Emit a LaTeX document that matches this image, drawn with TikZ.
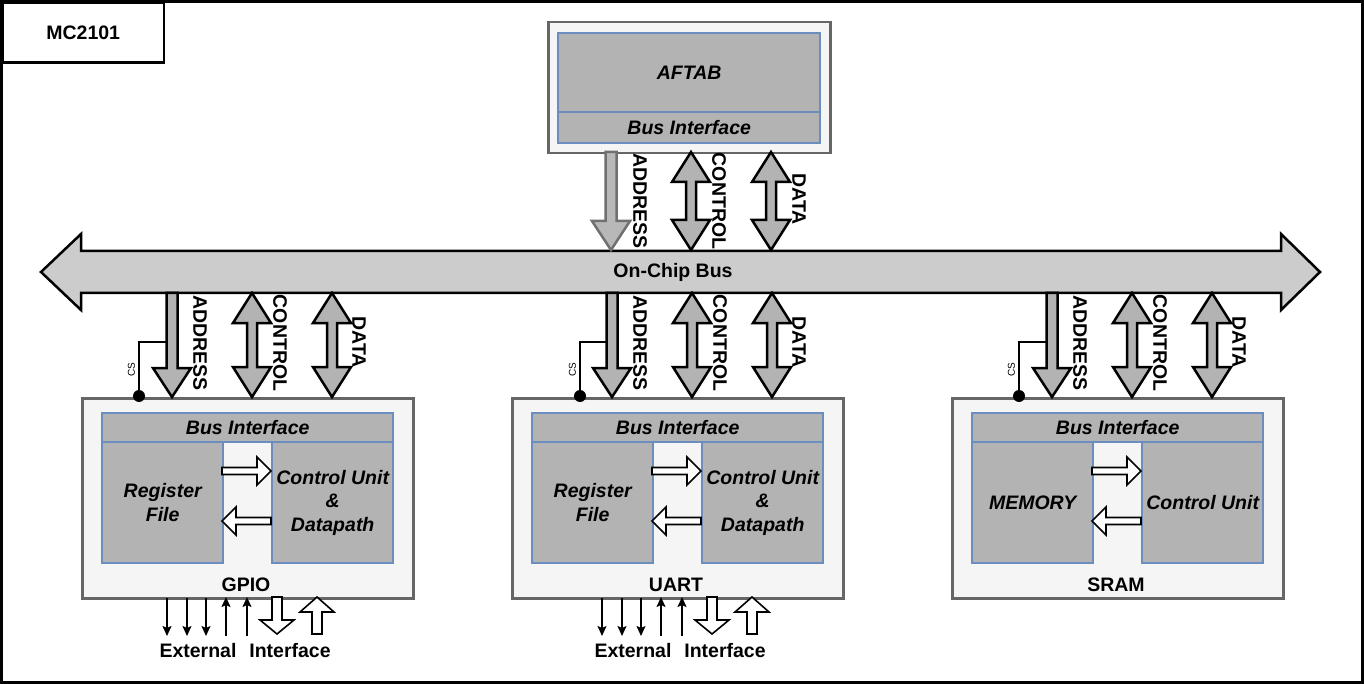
\documentclass[tikz,border=0pt]{standalone}
\usepackage{fontspec}
\setmainfont{Liberation Sans}
\usetikzlibrary{arrows.meta}
\definecolor{boxgray}{HTML}{F5F5F5}
\definecolor{edgegray}{HTML}{666666}
\definecolor{innerfill}{HTML}{B3B3B3}
\definecolor{blueedge}{HTML}{6C8EBF}
\definecolor{busfill}{HTML}{CCCCCC}
\definecolor{addrfill}{HTML}{B8B8B8}
\definecolor{addredge}{HTML}{707070}
\tikzset{
  outerbox/.style={draw=edgegray, fill=boxgray, line width=2.5pt, inner sep=0pt, anchor=north west},
  innerbox/.style={draw=blueedge, fill=innerfill, line width=2.4pt, inner sep=0pt, anchor=north west,
    font=\bfseries\itshape\fontsize{19.5}{23.5}\selectfont, align=center},
  blockarr/.style={draw=black, fill=innerfill, line width=2.5pt},
  addrtop/.style={draw=addredge, fill=addrfill, line width=2.5pt},
  busarr/.style={draw=black, fill=busfill, line width=2.5pt},
  hollow/.style={draw=black, fill=white, line width=1.6pt},
  lbl/.style={font=\bfseries\fontsize{19.5}{23}\selectfont, inner sep=0pt},
  vlbl/.style={lbl, rotate=-90},
  cslbl/.style={font=\fontsize{10}{11}\selectfont, rotate=90, inner sep=0pt},
  thinarr/.style={-{Stealth[length=10pt,width=9pt,inset=2pt]}, line width=1.5pt},
  wire/.style={line width=2pt},
  csdot/.style={circle, fill=black, inner sep=0pt, minimum size=12pt},
}
% down block arrow: style, x, ytop, ytip
\newcommand{\blkdown}[4]{%
  \draw[#1] ({#2-5.5},#3) -- ({#2+5.5},#3) -- ({#2+5.5},{#4-29}) -- ({#2+19},{#4-29})
    -- (#2,#4) -- ({#2-19},{#4-29}) -- ({#2-5.5},{#4-29}) -- cycle;}
% double vertical block arrow: x, ytop, ybot
\newcommand{\blkdbl}[3]{%
  \draw[blockarr] (#1,#2) -- ({#1+19},{#2+30}) -- ({#1+5},{#2+30}) -- ({#1+5},{#3-30})
    -- ({#1+19},{#3-30}) -- (#1,#3) -- ({#1-19},{#3-30}) -- ({#1-5},{#3-30})
    -- ({#1-5},{#2+30}) -- ({#1-19},{#2+30}) -- cycle;}
% hollow arrows
\newcommand{\hollowright}[3]{% xleft, xright, y
  \draw[hollow] (#1,{#3-3.5}) -- ({#2-14},{#3-3.5}) -- ({#2-14},{#3-14}) -- (#2,#3)
    -- ({#2-14},{#3+14}) -- ({#2-14},{#3+3.5}) -- (#1,{#3+3.5}) -- cycle;}
\newcommand{\hollowleft}[3]{% xleft, xright, y
  \draw[hollow] (#2,{#3-3.5}) -- ({#1+14},{#3-3.5}) -- ({#1+14},{#3-14}) -- (#1,#3)
    -- ({#1+14},{#3+14}) -- ({#1+14},{#3+3.5}) -- (#2,{#3+3.5}) -- cycle;}
\newcommand{\hollowdown}[1]{%
  \draw[hollow] ({#1-5},597) -- ({#1+5},597) -- ({#1+5},620) -- ({#1+17},620) -- (#1,634)
    -- ({#1-17},620) -- ({#1-5},620) -- cycle;}
\newcommand{\hollowup}[1]{%
  \draw[hollow] (#1,597) -- ({#1+17},612) -- ({#1+5},612) -- ({#1+5},634) -- ({#1-5},634)
    -- ({#1-5},612) -- ({#1-17},612) -- cycle;}
% module: bx, addr x, ctrl x, data x, dot x, name, left text, right text
\newcommand{\modblock}[8]{%
  \node[outerbox, minimum width=331pt, minimum height=200pt] (#6-box) at (#1,397) {};
  \node[innerbox, minimum width=291pt, minimum height=29pt] (#6-bi) at ({#1+20},412) {Bus Interface};
  \node[innerbox, minimum width=121pt, minimum height=121pt] (#6-l) at ({#1+20},441) {#7};
  \node[innerbox, minimum width=121pt, minimum height=121pt] (#6-r) at ({#1+190},441) {#8};
  \hollowright{#1+141}{#1+190}{471}
  \hollowleft{#1+141}{#1+190}{521}
  \node[lbl] (#6-name) at ({#1+165},585) {#6};
  \node[csdot] (#6-cs) at (#5,396) {};
  \coordinate (#6-tap) at ({#2-5.5},342);
  \draw[wire] (#6-tap) -| (#6-cs.center);
  \node[cslbl] at ({#5-7.5},370) {CS};
  \blkdown{blockarr}{#2}{293}{397}
  \blkdbl{#3}{293}{397}
  \blkdbl{#4}{293}{397}
  \node[vlbl] at ({#2+28},343) {ADDRESS};
  \node[vlbl] at ({#3+28},343) {CONTROL};
  \node[vlbl] at ({#4+27},342) {DATA};
}
% external interface with offset
\newcommand{\extif}[1]{%
  \draw[thinarr] ({#1+167},598) -- ({#1+167},636);
  \draw[thinarr] ({#1+187},598) -- ({#1+187},636);
  \draw[thinarr] ({#1+206},598) -- ({#1+206},636);
  \draw[thinarr] ({#1+226},636) -- ({#1+226},597);
  \draw[thinarr] ({#1+247},636) -- ({#1+247},597);
  \hollowdown{#1+277}
  \hollowup{#1+317}
  \node[lbl] at ({#1+198},651) {External};
  \node[lbl] at ({#1+290},651) {Interface};
}
\begin{document}
\begin{tikzpicture}[x=1pt, y=-1pt]
  \useasboundingbox (0,0) rectangle (1364,684);
  \fill[white] (0,0) rectangle (1364,684);
  % frame and title
  \draw[line width=3.5pt] (1.5,1.5) rectangle (1362.5,682.5);
  \node[draw, line width=2.5pt, inner sep=0pt, minimum width=161pt, minimum height=60pt,
        anchor=north west, lbl] (title) at (1.5,1.5) {MC2101};
  % AFTAB
  \node[outerbox, minimum width=282pt, minimum height=131pt] (cpu) at (547,21) {};
  \node[innerbox, minimum width=262pt, minimum height=79pt] (aftab) at (557,32) {AFTAB};
  \node[innerbox, minimum width=262pt, minimum height=31pt] (cpubi) at (557,111) {Bus Interface};
  % bus
  \draw[busarr] (41,272) -- (81,234) -- (81,251) -- (1281,251) -- (1281,234) -- (1320,272)
     -- (1281,310) -- (1281,293) -- (81,293) -- (81,310) -- cycle;
  \node[lbl] (bus) at (673,272) {On-Chip Bus};
  % AFTAB to bus
  \blkdown{addrtop}{611}{152}{250}
  \blkdbl{691}{152}{250}
  \blkdbl{771}{152}{250}
  \node[vlbl] at (640,201) {ADDRESS};
  \node[vlbl] at (719,201) {CONTROL};
  \node[vlbl] at (799,199) {DATA};
  % modules
  \modblock{81}{172}{252}{332}{139}{GPIO}{Register\\File}{Control Unit\\\&\\Datapath}
  \modblock{511}{612}{692}{772}{580}{UART}{Register\\File}{Control Unit\\\&\\Datapath}
  \modblock{951}{1052}{1132}{1212}{1019}{SRAM}{MEMORY}{Control Unit}
  \extif{0}
  \extif{435}
\end{tikzpicture}
\end{document}
